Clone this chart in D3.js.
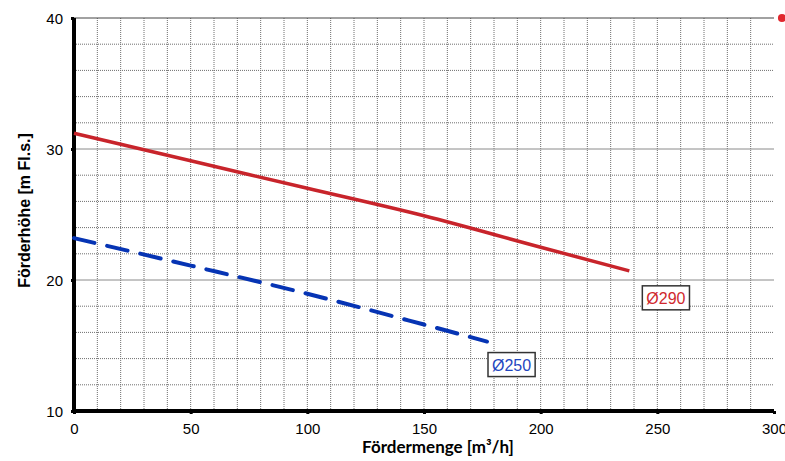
<!DOCTYPE html>
<html>
<head>
<meta charset="utf-8">
<script src="https://cdn.jsdelivr.net/npm/d3@7"></script>
<style>
  body { margin: 0; background: #fff; }
  svg { display: block; }
</style>
</head>
<body>
<div id="chart"></div>
<script>
// pump curves
var flowTicks = [0, 50, 100, 150, 200, 250, 300];
var headTicks = [10, 20, 30, 40];

var d290Flow = [0, 50, 100, 150, 200, 238];
var d290Head = [31.2, 29.1, 27.0, 24.9, 22.5, 20.7];

var d250Flow = [0, 50, 100, 150, 177];
var d250Head = [23.2, 21.1, 18.95, 16.6, 15.3];

var curveNames = ["Ø290", "Ø250"];

// lone marker at the top right edge
var dotFlow = [303.4];
var dotHead = [40];

var width = 785, height = 461;
var margin = {left: 74, right: 11, top: 18, bottom: 50};

var svg = d3.select("#chart").append("svg")
    .attr("width", width)
    .attr("height", height);

var x = d3.scaleLinear().domain([0, 300]).range([margin.left, width - margin.right]);
var y = d3.scaleLinear().domain([10, 40]).range([height - margin.bottom, margin.top]);

// grid
var grid = svg.append("g");
grid.selectAll("line.v")
    .data(d3.range(10, 300, 10))
    .enter().append("line")
    .attr("x1", function(d){ return x(d); })
    .attr("x2", function(d){ return x(d); })
    .attr("y1", y(10))
    .attr("y2", y(40))
    .attr("stroke", "#6e6e6e")
    .attr("stroke-width", 1)
    .attr("stroke-dasharray", "1,1");

grid.selectAll("line.h")
    .data(d3.range(12, 40, 2))
    .enter().append("line")
    .attr("x1", x(0))
    .attr("x2", x(300))
    .attr("y1", function(d){ return y(d); })
    .attr("y2", function(d){ return y(d); })
    .attr("stroke", function(d){ return d % 10 == 0 ? "#8a8a8a" : "#6e6e6e"; })
    .attr("stroke-width", 1)
    .attr("stroke-dasharray", function(d){ return d % 10 == 0 ? null : "1,1"; });

// top frame line
svg.append("line")
    .attr("x1", x(0)).attr("x2", x(300))
    .attr("y1", y(40)).attr("y2", y(40))
    .attr("stroke", "#444").attr("stroke-width", 1.2);

// axes
var xAxis = svg.append("g")
    .attr("transform", "translate(0," + y(10) + ")")
    .call(d3.axisBottom(x).tickValues(flowTicks).tickSize(3).tickPadding(9));
var yAxis = svg.append("g")
    .attr("transform", "translate(" + x(0) + ",0)")
    .call(d3.axisLeft(y).tickValues(headTicks).tickSize(3).tickPadding(8));

[xAxis, yAxis].forEach(function(a){
    a.select(".domain").attr("stroke", "#000").attr("stroke-width", 4);
    a.selectAll(".tick line").attr("stroke", "#000").attr("stroke-width", 3);
    a.selectAll(".tick text")
	.attr("font-family", "Liberation Sans, Arial, sans-serif")
	.attr("font-size", "15px")
	.attr("fill", "#000");
});
yAxis.selectAll(".tick text").attr("dy", "0.35em");
xAxis.select(".domain").attr("d", "M" + (x(0) - 2) + ",0H" + x(300));
yAxis.select(".domain").attr("d", "M0," + y(40) + "V" + (y(10) + 2));

// curves
var line = d3.line()
    .x(function(d){ return x(d[0]); })
    .y(function(d){ return y(d[1]); })
    .curve(d3.curveMonotoneX);

var d290 = d3.zip(d290Flow, d290Head);
var d250 = d3.zip(d250Flow, d250Head);

svg.append("path")
    .datum(d290)
    .attr("d", line)
    .attr("fill", "none")
    .attr("stroke", "#c8242b")
    .attr("stroke-width", 3.5);

svg.append("path")
    .datum(d250)
    .attr("d", line)
    .attr("fill", "none")
    .attr("stroke", "#0634b4")
    .attr("stroke-width", 4)
    .attr("stroke-linecap", "round")
    .attr("stroke-dasharray", "21,13");

// curve labels, boxed, just below the curve end
function curveLabel(pt, name, color, dx, dy)
{
    var g = svg.append("g")
	.attr("transform", "translate(" + (x(pt[0]) + dx) + "," + (y(pt[1]) + dy) + ")");
    var t = g.append("text")
	.attr("x", 4)
	.attr("y", 18)
	.attr("font-family", "Liberation Sans, Arial, sans-serif")
	.attr("font-size", "16px")
	.attr("fill", color)
	.text(name);
    var w = t.node().getComputedTextLength();
    g.insert("rect", "text")
	.attr("x", 0).attr("y", 0)
	.attr("width", w + 8).attr("height", 24)
	.attr("fill", "#fff")
	.attr("stroke", "#333")
	.attr("stroke-width", 1.5);
}
curveLabel(d290[d290.length - 1], curveNames[0], "#d0282e", 13, 15);
curveLabel(d250[d250.length - 1], curveNames[1], "#1f46c0", 1, 11);

// marker
svg.selectAll("circle.dot")
    .data(d3.zip(dotFlow, dotHead))
    .enter().append("circle")
    .attr("cx", function(d){ return x(d[0]); })
    .attr("cy", function(d){ return y(d[1]); })
    .attr("r", 4)
    .attr("fill", "#e0282e");

// axis titles
svg.append("text")
    .attr("transform", "translate(30," + ((y(10) + y(40)) / 2 - 4) + ") rotate(-90)")
    .attr("text-anchor", "middle")
    .attr("font-family", "Liberation Sans, Arial, sans-serif")
    .attr("font-weight", "bold")
    .attr("font-size", "16px")
    .text("Förderhöhe [m Fl.s.]");

svg.append("text")
    .attr("x", 438)
    .attr("y", 453)
    .attr("text-anchor", "middle")
    .attr("font-family", "Lato, sans-serif")
    .attr("font-weight", "bold")
    .attr("font-size", "17px")
    .text("Fördermenge [m³/h]");
</script>
</body>
</html>
